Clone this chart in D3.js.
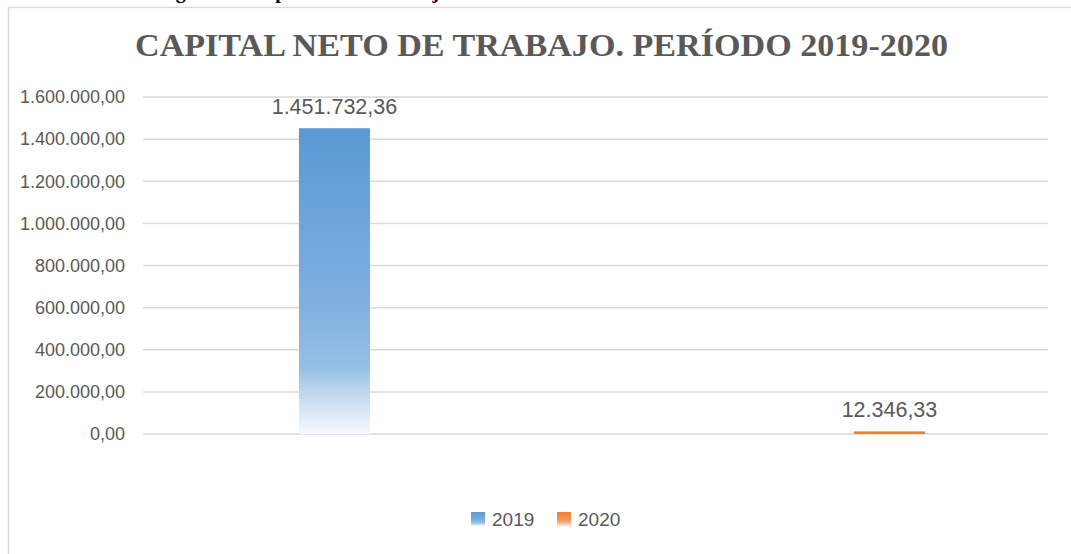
<!DOCTYPE html>
<html>
<head>
<meta charset="utf-8">
<script src="https://cdn.jsdelivr.net/npm/d3@7"></script>
<style>
  body { margin: 0; background: #fff; }
  text { font-family: "Liberation Sans", Arial, sans-serif; fill: #595959; }
</style>
</head>
<body>
<div id="chart"></div>
<script>
// data
var series = ["2019", "2020"];
var values = [1451732.36, 12346.33];
var yTicks = [0, 200000, 400000, 600000, 800000, 1000000, 1200000, 1400000, 1600000];
var colors = ["#5B9BD5", "#ED7D31"];
var titleText = "CAPITAL NETO DE TRABAJO. PERÍODO 2019-2020";
var captionText = "Figura 12. Capital neto de trabajo";

var W = 1071, H = 554;
var margin = {top: 97, left: 143, right: 23, bottom: 120};
var plotW = W - margin.left - margin.right,
    plotH = 434 - margin.top;

var locale = d3.formatLocale({decimal: ",", thousands: ".", grouping: [3], currency: ["", ""]});
var fmt = locale.format(",.2f");

var svg = d3.select("#chart").append("svg")
  .attr("width", W)
  .attr("height", H);

var defs = svg.append("defs");
// gradient fill like the excel one: solid at top, fading to white at the base
var gBlue = defs.append("linearGradient").attr("id", "gBlue")
  .attr("x1", 0).attr("y1", 0).attr("x2", 0).attr("y2", 1);
[[0, "#5A99D4"], [0.55, "#7DAFDF"], [0.78, "#95BFE6"], [0.9, "#CFE1F2"], [1, "#F6F9FD"]].forEach(function(s) {
  gBlue.append("stop").attr("offset", s[0]).attr("stop-color", s[1]);
});
var gOrange = defs.append("linearGradient").attr("id", "gOrange")
  .attr("x1", 0).attr("y1", 0).attr("x2", 0).attr("y2", 1);
[[0, "#ED7D31"], [0.6, "#F09A5E"], [1, "#FBE3D2"]].forEach(function(s) {
  gOrange.append("stop").attr("offset", s[0]).attr("stop-color", s[1]);
});
var fills = ["url(#gBlue)", "#ED7D31"];
var legendFills = ["url(#gBlue)", "url(#gOrange)"];

// caption from the document, cut off at the top (only the descenders show)
svg.append("text")
  .attr("x", 158)
  .attr("y", -2)
  .style("font-family", "'Liberation Serif', 'Times New Roman', serif")
  .style("font-weight", "bold")
  .style("font-size", "20px")
  .style("fill", "#000")
  .text(captionText);

// chart frame
svg.append("rect")
  .attr("x", 8.5).attr("y", 7.5)
  .attr("width", 1200).attr("height", 700)
  .attr("fill", "none")
  .attr("stroke", "#D9D9D9")
  .attr("stroke-width", 1.5);

// title
svg.append("text")
  .attr("x", 135)
  .attr("y", 56)
  .attr("textLength", 813)
  .attr("lengthAdjust", "spacingAndGlyphs")
  .style("font-family", "'Liberation Serif', 'Times New Roman', serif")
  .style("font-weight", "bold")
  .style("font-size", "32px")
  .text(titleText);

var y = d3.scaleLinear()
  .domain([0, 1600000])
  .range([margin.top + plotH, margin.top]);

var x = d3.scaleBand()
  .domain(series)
  .range([margin.left, margin.left + plotW])
  .paddingInner(0.872)
  .paddingOuter(0.2513)
  .align(0.559);

// gridlines
svg.append("g")
  .selectAll("line")
  .data(yTicks)
  .enter().append("line")
  .attr("x1", margin.left)
  .attr("x2", margin.left + plotW)
  .attr("y1", function(d) { return y(d); })
  .attr("y2", function(d) { return y(d); })
  .attr("stroke", "#D9D9D9")
  .attr("stroke-width", 1.5);

// y axis labels
var yAxis = d3.axisLeft(y)
  .tickValues(yTicks)
  .tickFormat(fmt)
  .tickSize(0)
  .tickPadding(18);
var gy = svg.append("g")
  .attr("transform", "translate(" + margin.left + ",0)")
  .call(yAxis);
gy.select(".domain").remove();
gy.selectAll("text")
  .style("font-family", "'Liberation Sans', Arial, sans-serif")
  .style("font-size", "18px")
  .attr("fill", "#595959");

// bars
svg.append("g")
  .selectAll("rect")
  .data(values)
  .enter().append("rect")
  .attr("x", function(d, i) { return x(series[i]); })
  .attr("y", function(d) { return y(d); })
  .attr("width", x.bandwidth())
  .attr("height", function(d) { return y(0) - y(d); })
  .attr("fill", function(d, i) { return fills[i]; });

// data labels
svg.append("g")
  .selectAll("text")
  .data(values)
  .enter().append("text")
  .attr("x", function(d, i) { return x(series[i]) + x.bandwidth() / 2; })
  .attr("y", function(d) { return y(d) - 14; })
  .attr("text-anchor", "middle")
  .style("font-size", "21.5px")
  .text(function(d) { return fmt(d); });

// legend
var legendX = [471, 557];
var legend = svg.append("g")
  .selectAll("g")
  .data(series)
  .enter().append("g")
  .attr("transform", function(d, i) { return "translate(" + legendX[i] + ",512)"; });
legend.append("rect")
  .attr("width", 14)
  .attr("height", 14)
  .attr("fill", function(d, i) { return legendFills[i]; });
legend.append("text")
  .attr("x", 21)
  .attr("y", 14)
  .style("font-size", "19px")
  .text(function(d) { return d; });
</script>
</body>
</html>
